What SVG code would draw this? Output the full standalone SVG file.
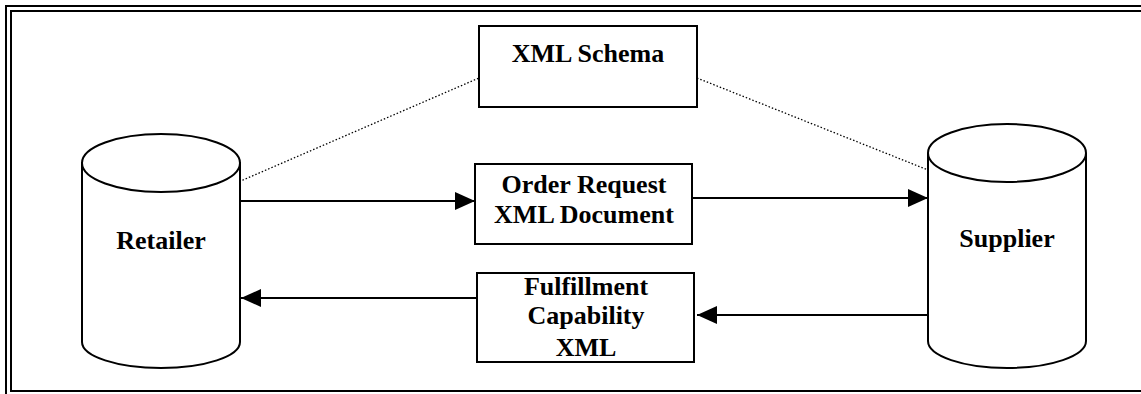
<svg xmlns="http://www.w3.org/2000/svg" width="1141" height="394" viewBox="0 0 1141 394">
<style>
.shape{fill:#fff;stroke:#000;stroke-width:2}
.lbl{font-family:"Liberation Serif","Times New Roman",serif;font-weight:bold;font-size:26px;fill:#000;text-anchor:middle}
.conn{stroke:#000;stroke-width:2;fill:none}
.dot{stroke:#000;stroke-width:1.3;stroke-dasharray:1.5 2;fill:none}
.frame{fill:none;stroke:#000;stroke-width:2}
</style>
<defs>
<marker id="ah" markerWidth="20" markerHeight="18" refX="20" refY="9" orient="auto" markerUnits="userSpaceOnUse">
<path d="M0,0 L20,9 L0,18 Z" fill="#000"/>
</marker>
</defs>
<rect width="1141" height="394" fill="#fff"/>
<g id="frame">
<path class="frame" d="M1145,6 H6 V396"/>
<path class="frame" d="M1145,11 H11 V391 H1145"/>
</g>
<g id="connectors">
<line class="dot" x1="236" y1="183" x2="479" y2="78"/>
<line class="dot" x1="697" y1="78" x2="928" y2="170"/>
<line class="conn" x1="240" y1="201" x2="475" y2="201" marker-end="url(#ah)"/>
<line class="conn" x1="692" y1="198" x2="928" y2="198" marker-end="url(#ah)"/>
<line class="conn" x1="936" y1="315" x2="697" y2="315" marker-end="url(#ah)"/>
<line class="conn" x1="480" y1="298" x2="241" y2="298" marker-end="url(#ah)"/>
</g>
<g id="retailer">
<path class="shape" d="M82,162 V342 A79,26 0 0 0 240,342 V162"/>
<ellipse class="shape" cx="161" cy="163" rx="79" ry="29"/>
<text class="lbl" x="161" y="249">Retailer</text>
</g>
<g id="supplier">
<path class="shape" d="M928,153 V341 A79,27 0 0 0 1086,341 V153"/>
<ellipse class="shape" cx="1007" cy="153" rx="79" ry="29"/>
<text class="lbl" x="1007" y="247">Supplier</text>
</g>
<g id="schema">
<rect class="shape" x="479" y="26" width="218" height="81"/>
<text class="lbl" x="588" y="62">XML Schema</text>
</g>
<g id="order">
<rect class="shape" x="475" y="164" width="217" height="80"/>
<text class="lbl" x="584" y="193">Order Request</text>
<text class="lbl" x="584" y="223">XML Document</text>
</g>
<g id="fulfillment">
<rect class="shape" x="477" y="273" width="217" height="89"/>
<text class="lbl" x="586" y="295">Fulfillment</text>
<text class="lbl" x="586" y="324">Capability</text>
<text class="lbl" x="586" y="356">XML</text>
</g>
</svg>
